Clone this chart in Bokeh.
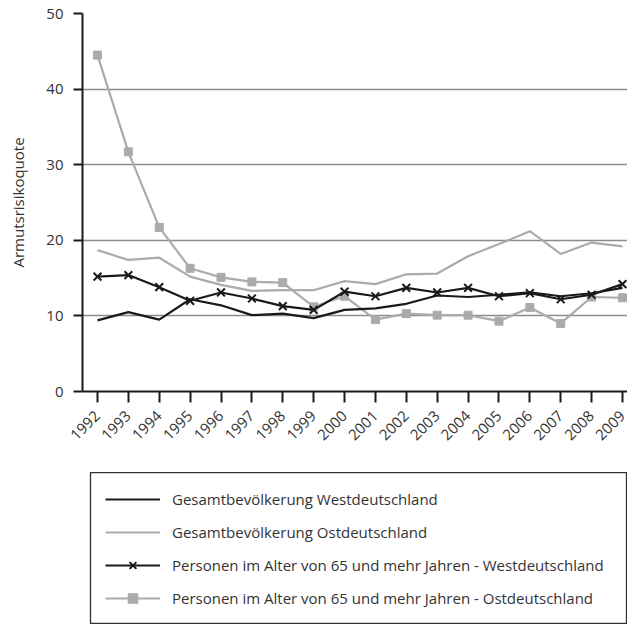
import math
from bokeh.plotting import figure
from bokeh.layouts import column
from bokeh.models import FixedTicker, Legend, LegendItem, Range1d
from bokeh.embed import file_html
from bokeh.resources import INLINE

years = list(range(1992, 2010))
gesamt_west = [9.4, 10.5, 9.5, 12.2, 11.4, 10.1, 10.3, 9.7, 10.8, 11.0, 11.6, 12.7, 12.5, 12.8, 13.1, 12.6, 13.0, 13.7]
gesamt_ost = [18.7, 17.4, 17.7, 15.2, 14.1, 13.3, 13.4, 13.4, 14.6, 14.2, 15.5, 15.6, 17.9, 19.5, 21.2, 18.2, 19.7, 19.2]
alt_west = [15.2, 15.4, 13.8, 12.0, 13.1, 12.3, 11.3, 10.8, 13.2, 12.6, 13.7, 13.1, 13.7, 12.6, 13.0, 12.2, 12.8, 14.2]
alt_ost = [44.5, 31.7, 21.7, 16.3, 15.1, 14.5, 14.4, 11.2, 12.6, 9.5, 10.3, 10.1, 10.1, 9.3, 11.1, 9.0, 12.5, 12.4]
y_ticks = [0, 10, 20, 30, 40, 50]
labels = [
    "Gesamtbevölkerung Westdeutschland",
    "Gesamtbevölkerung Ostdeutschland",
    "Personen im Alter von 65 und mehr Jahren - Westdeutschland",
    "Personen im Alter von 65 und mehr Jahren - Ostdeutschland",
]

FONT = "Open Sans"
BLACK = "#1a1a1a"
GRAY = "#ababab"
TEXT = "#333333"

p = figure(width=627, height=472, output_backend="svg", toolbar_location=None,
           x_range=Range1d(1991.515, 2009.162), y_range=Range1d(0, 50),
           min_border_left=82, min_border_right=0, min_border_top=13, min_border_bottom=81)
p.frame_align = False
p.outline_line_color = None
p.background_fill_color = "white"
p.border_fill_color = "white"

p.xgrid.grid_line_color = None
p.ygrid.grid_line_color = "#8c8c8c"
p.ygrid.grid_line_width = 1.3
p.ygrid.ticker = FixedTicker(ticks=y_ticks)

p.xaxis.ticker = FixedTicker(ticks=years)
p.yaxis.ticker = FixedTicker(ticks=y_ticks)
for ax in (p.xaxis[0], p.yaxis[0]):
    ax.axis_line_color = BLACK
    ax.axis_line_width = 2
    ax.major_tick_line_color = BLACK
    ax.major_tick_line_width = 2
    ax.minor_tick_line_color = None
    ax.major_tick_in = 0
    ax.major_label_text_font = FONT
    ax.major_label_text_font_size = "15px"
    ax.major_label_text_color = TEXT
    ax.axis_label_text_font = FONT
    ax.axis_label_text_font_size = "15px"
    ax.axis_label_text_font_style = "normal"
    ax.axis_label_text_color = TEXT
p.xaxis.major_tick_out = 11
p.xaxis.major_label_orientation = math.pi / 4
p.xaxis.major_label_standoff = 11
p.yaxis.major_tick_out = 9
p.yaxis.major_label_standoff = 10
p.yaxis.axis_label = "Armutsrisikoquote"
p.yaxis.axis_label_standoff = 15

p.line(years, gesamt_ost, line_color=GRAY, line_width=2.2)
p.line(years, alt_ost, line_color=GRAY, line_width=2.2)
p.scatter(years, alt_ost, marker="square", size=8, fill_color=GRAY, line_color=GRAY)
p.line(years, gesamt_west, line_color=BLACK, line_width=2.2)
p.line(years, alt_west, line_color=BLACK, line_width=2.2)
p.scatter(years, alt_west, marker="x", size=11, line_color=BLACK, line_width=2)

# legend panel below the chart: its frame outline is the legend box
lg = figure(width=627, height=152, output_backend="svg", toolbar_location=None,
            x_axis_type=None, y_axis_type=None,
            x_range=Range1d(0, 1), y_range=Range1d(0, 1),
            min_border_left=90, min_border_right=1, min_border_top=0, min_border_bottom=0)
lg.frame_align = False
lg.outline_line_color = TEXT
lg.outline_line_width = 1.3
lg.grid.grid_line_color = None
lg.background_fill_color = "white"
lg.border_fill_color = "white"
e1 = lg.line(years, gesamt_west, line_color=BLACK, line_width=2.2)
e2 = lg.line(years, gesamt_ost, line_color=GRAY, line_width=2.2)
e3 = lg.line(years, alt_west, line_color=BLACK, line_width=2.2)
e3s = lg.scatter(years, alt_west, marker="x", size=8, line_color=BLACK, line_width=2)
e4 = lg.line(years, alt_ost, line_color=GRAY, line_width=2.2)
e4s = lg.scatter(years, alt_ost, marker="square", size=8, fill_color=GRAY, line_color=GRAY)

legend = Legend(items=[
    LegendItem(label=labels[0], renderers=[e1]),
    LegendItem(label=labels[1], renderers=[e2]),
    LegendItem(label=labels[2], renderers=[e3, e3s]),
    LegendItem(label=labels[3], renderers=[e4, e4s]),
], location="top_left", orientation="vertical")
legend.label_text_font = FONT
legend.label_text_font_size = "15px"
legend.label_text_color = TEXT
legend.glyph_width = 55
legend.glyph_height = 24
legend.label_height = 24
legend.label_standoff = 12
legend.padding = 15
legend.spacing = 9
legend.margin = 0
legend.border_line_color = "white"
legend.border_line_alpha = 0
legend.background_fill_alpha = 0
lg.add_layout(legend, "center")

layout = column(p, lg, spacing=0)
open("out.html", "w").write(file_html(layout, INLINE))
